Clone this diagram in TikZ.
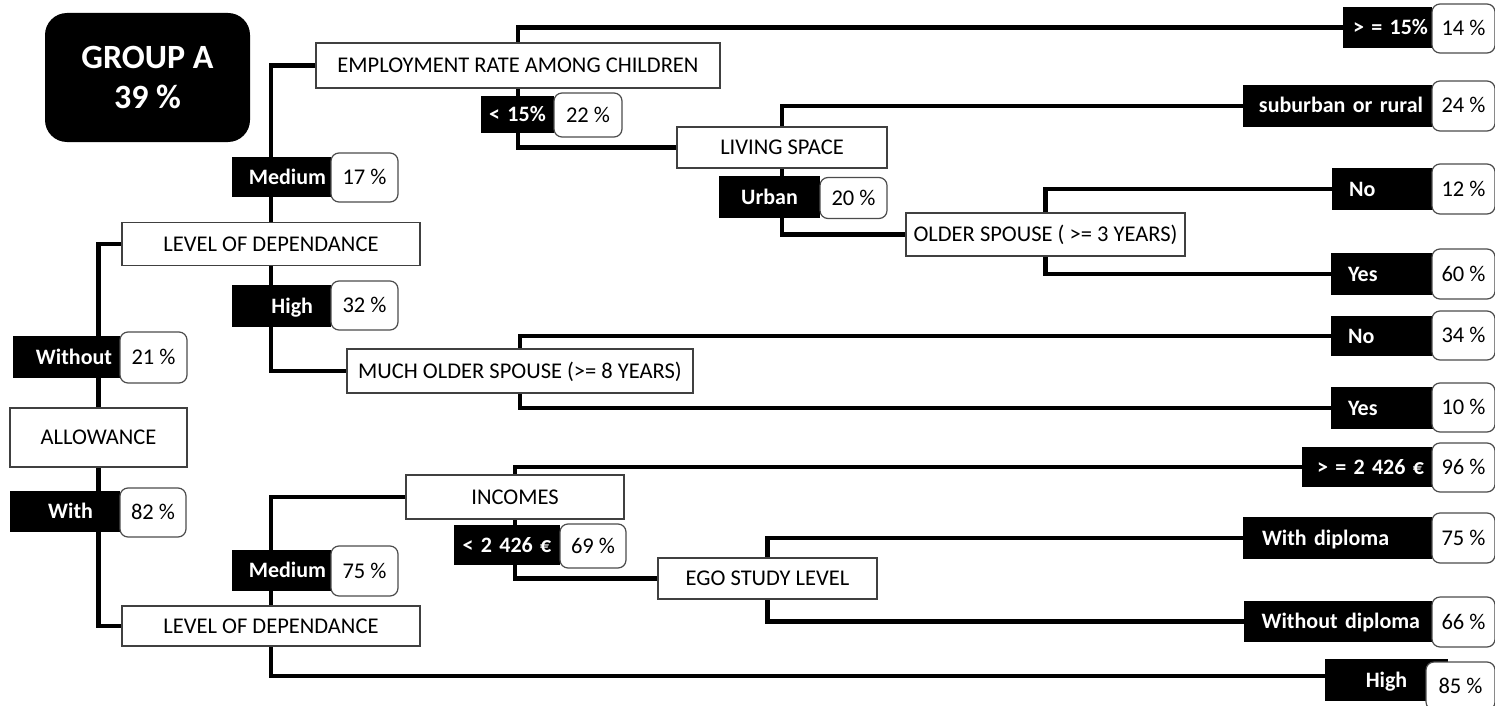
\documentclass[tikz,border=0pt]{standalone}
\usepackage{fontspec}
\setmainfont{Carlito}
\usetikzlibrary{backgrounds}
\begin{document}
\begin{tikzpicture}[x=1pt,y=-1pt,
  qbox/.style={draw=black!75, line width=1.2pt, fill=white, inner sep=0pt,
    font=\fontsize{22.5}{26}\selectfont, text height=15, text depth=1},
  lab/.style={fill=black, text=white, inner ysep=0pt,
    font=\bfseries\fontsize{22}{26}\selectfont, text height=15, text depth=1},
  pct/.style={draw=black!70, line width=1.2pt, fill=white, rounded corners=8pt,
    inner sep=0pt, font=\fontsize{22.5}{26}\selectfont, text height=15, text depth=1},
  conn/.style={line width=4.5pt, black}]
\useasboundingbox (0,0) rectangle (1495,706);

% group badge
\node[fill=black, rounded corners=22pt, minimum width=205, minimum height=129, inner sep=0pt,
  text=white, font=\bfseries\fontsize{34}{40}\selectfont, align=center] (grp) at (147.5,77.5) {GROUP A\\39 \%};

% question boxes
\node[qbox, minimum width=177, minimum height=59] (allow) at (98.5,437.5) {ALLOWANCE};
\node[qbox, minimum width=298, minimum height=43] (lev1) at (271,244) {LEVEL OF DEPENDANCE};
\node[qbox, minimum width=298, minimum height=40] (lev2) at (271,626) {LEVEL OF DEPENDANCE};
\node[qbox, minimum width=404, minimum height=45] (emp) at (518,65.5) {EMPLOYMENT RATE AMONG CHILDREN};
\node[qbox, minimum width=346, minimum height=44] (much) at (520,371) {MUCH OLDER SPOUSE (>= 8 YEARS)};
\node[qbox, minimum width=210, minimum height=41] (ls) at (782,147.5) {LIVING SPACE};
\node[qbox, minimum width=279, minimum height=43] (os) at (1045.5,234.5) {OLDER SPOUSE ( >= 3 YEARS)};
\node[qbox, minimum width=218, minimum height=44] (inc) at (515,497) {INCOMES};
\node[qbox, minimum width=219, minimum height=41] (ego) at (767.5,578.5) {EGO STUDY LEVEL};

% branch labels
\node[lab, minimum height=42, text width=91, inner xsep=8, align=right] (without) at (66.5,357) {Without};
\node[lab, minimum height=41, text width=56, inner xsep=27, align=right] (with) at (65,511.5) {With};
\node[lab, minimum height=40, text width=89, inner xsep=5, align=right] (med1) at (281.5,177) {Medium};
\node[lab, minimum height=42, text width=63, inner xsep=18, align=right] (high1) at (281.5,306) {High};
\node[lab, minimum height=41, text width=89, inner xsep=5, align=right] (med2) at (281.5,570.5) {Medium};
\node[lab, minimum height=37, text width=67, inner xsep=3, align=center] (lt15) at (517.5,114.5) {< 15\%};
\node[lab, minimum height=42, text width=85, inner xsep=8, align=center] (urban) at (769.5,197) {Urban};
\node[lab, minimum height=40, text width=100, inner xsep=3, align=center] (lt2426) at (507,545) {< 2 426 €};
\node[lab, minimum height=41, text width=81, inner xsep=4, align=right] (ge15) at (1387.5,27.5) {> = 15\%};
\node[lab, minimum height=42, text width=171, inner xsep=9, align=right] (sub) at (1337.5,106) {suburban or rural};
\node[lab, minimum height=42, text width=75, inner xsep=17, align=left] (no1) at (1386.5,189) {No};
\node[lab, minimum height=42, text width=76, inner xsep=17, align=left] (yes1) at (1386,274) {Yes};
\node[lab, minimum height=40, text width=76, inner xsep=17, align=left] (no2) at (1386,336) {No};
\node[lab, minimum height=42, text width=76, inner xsep=17, align=left] (yes2) at (1386,408) {Yes};
\node[lab, minimum height=40, text width=114, inner xsep=8, align=right] (ge2426) at (1367,467) {> = 2 426 €};
\node[lab, minimum height=42, text width=151, inner xsep=19, align=left] (wd) at (1337.5,538) {With diploma};
\node[lab, minimum height=41, text width=164, inner xsep=12, align=right] (wod) at (1338,621.5) {Without diploma};
\node[lab, minimum height=42, text width=45, inner xsep=39, align=center] (high2) at (1386.5,680) {High};

% percentage boxes
\node[pct, minimum width=67, minimum height=51] (p21) at (153.5,357.5) {21 \%};
\node[pct, minimum width=66, minimum height=49] (p82) at (153,512.5) {82 \%};
\node[pct, minimum width=67, minimum height=49] (p17) at (364.5,177.5) {17 \%};
\node[pct, minimum width=67, minimum height=49] (p32) at (364.5,305.5) {32 \%};
\node[pct, minimum width=67, minimum height=50] (p75a) at (364.5,571) {75 \%};
\node[pct, minimum width=68, minimum height=44] (p22) at (588,115) {22 \%};
\node[pct, minimum width=67, minimum height=41, text depth=-2] (p20) at (853.5,198) {20 \%};
\node[pct, minimum width=66, minimum height=44, text depth=-2] (p69) at (593,546) {69 \%};
\node[pct, minimum width=63, minimum height=49] (p14) at (1463.5,28.5) {14 \%};
\node[pct, minimum width=63, minimum height=50] (p24) at (1463.5,106) {24 \%};
\node[pct, minimum width=63, minimum height=50] (p12) at (1463.5,189) {12 \%};
\node[pct, minimum width=63, minimum height=50] (p60) at (1463.5,274) {60 \%};
\node[pct, minimum width=63, minimum height=49] (p34) at (1463.5,335.5) {34 \%};
\node[pct, minimum width=63, minimum height=49] (p10) at (1463.5,407.5) {10 \%};
\node[pct, minimum width=63, minimum height=49] (p96) at (1463.5,467.5) {96 \%};
\node[pct, minimum width=63, minimum height=50] (p75b) at (1463.5,538) {75 \%};
\node[pct, minimum width=63, minimum height=50] (p66) at (1463.5,622) {66 \%};
\node[pct, minimum width=69, minimum height=48, text depth=-4] (p85) at (1460.5,686) {85 \%};

\begin{pgfonlayer}{background}
\draw[conn] (allow.north) |- (lev1.west);
\draw[conn] (allow.south) |- (lev2.west);
\draw[conn] (lev1.north) |- (emp.west);
\draw[conn] (lev1.south) |- (much.west);
\draw[conn] (emp.north) |- (ge15.west);
\draw[conn] (emp.south) |- (ls.west);
\draw[conn] (ls.north) |- (sub.west);
\draw[conn] (ls.south) |- (os.west);
\draw[conn] (os.north) |- (no1.west);
\draw[conn] (os.south) |- (yes1.west);
\draw[conn] (much.north) |- (no2.west);
\draw[conn] (much.south) |- (yes2.west);
\draw[conn] (lev2.north) |- (inc.west);
\draw[conn] (lev2.south) |- ([yshift=4pt]high2.west);
\draw[conn] (inc.north) |- (ge2426.west);
\draw[conn] (inc.south) |- (ego.west);
\draw[conn] (ego.north) |- (wd.west);
\draw[conn] (ego.south) |- (wod.west);
\end{pgfonlayer}
\end{tikzpicture}
\end{document}
